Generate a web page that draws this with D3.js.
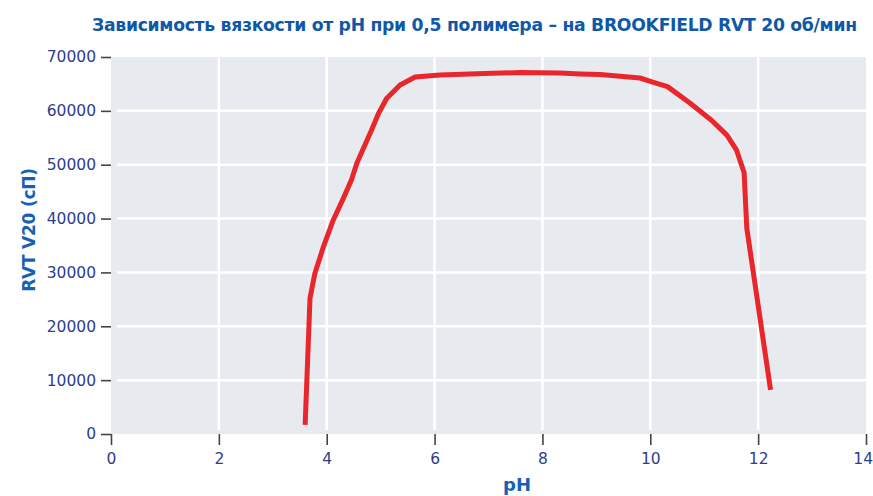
<!DOCTYPE html>
<html>
<head>
<meta charset="utf-8">
<script src="https://cdn.jsdelivr.net/npm/d3@7"></script>
<style>
  body { margin: 0; background: #fff; }
</style>
</head>
<body>
<div id="chart"></div>
<script>
// pH values and viscosity (cP)
const phValues = [3.60, 3.69, 3.78, 3.94, 4.12, 4.31, 4.46, 4.56, 4.83, 4.96, 5.11, 5.36, 5.64,
    6.10, 6.93, 7.58, 8.33, 8.70, 9.07, 9.81, 10.03, 10.32, 10.74, 11.14, 11.42, 11.60, 11.74, 11.79, 12.23];
const viscosity = [1700, 25200, 29800, 34800, 39700, 43800, 47200, 50300, 56400, 59500, 62300, 64800, 66300,
    66650, 66950, 67100, 67030, 66850, 66750, 66100, 65400, 64500, 61400, 58200, 55500, 52700, 48500, 38200, 8200];
const xTicks = [0, 2, 4, 6, 8, 10, 12, 14];
const yTicks = [0, 10000, 20000, 30000, 40000, 50000, 60000, 70000];

const titleText = "Зависимость вязкости от pH при 0,5 полимера – на BROOKFIELD RVT 20 об/мин";
const yLabel = "RVT V20 (сП)";
const xLabel = "pH";

const width = 873, height = 496;
const margin = { top: 57, right: 7, bottom: 62, left: 111 };

const svg = d3.select("#chart")
    .append("svg")
    .attr("width", width)
    .attr("height", height);

const x = d3.scaleLinear().domain([0, 14]).range([margin.left, width - margin.right]);
const y = d3.scaleLinear().domain([0, 70000]).range([height - margin.bottom, margin.top]);

// plot background
svg.append("rect")
    .attr("x", x(0))
    .attr("y", y(70000))
    .attr("width", x(14) - x(0))
    .attr("height", y(0) - y(70000))
    .attr("fill", "#e7eaee");

// grid lines (inset a little from the axes, like the original)
const grid = svg.append("g").attr("stroke", "#fff").attr("stroke-width", 2.5);
grid.selectAll("line.h")
    .data(yTicks.filter(d => d > 0 && d < 70000))
    .join("line")
    .attr("class", "h")
    .attr("x1", x(0) + 6)
    .attr("x2", x(14))
    .attr("y1", d => y(d))
    .attr("y2", d => y(d));
grid.selectAll("line.v")
    .data(xTicks.filter(d => d > 0 && d < 14))
    .join("line")
    .attr("class", "v")
    .attr("x1", d => x(d))
    .attr("x2", d => x(d))
    .attr("y1", y(70000))
    .attr("y2", y(0) - 4);

// axes
const tickColor = "#444";
const labelColor = "#2e3d8f";

const yAxis = svg.append("g")
    .attr("transform", `translate(${x(0)},0)`)
    .call(d3.axisLeft(y).tickValues(yTicks).tickSize(10).tickPadding(5).tickFormat(d3.format("d")));
const xAxis = svg.append("g")
    .attr("transform", `translate(0,${y(0)})`)
    .call(d3.axisBottom(x).tickValues(xTicks).tickSize(11).tickPadding(8));

[xAxis, yAxis].forEach(g => {
    g.select(".domain").remove();
    g.selectAll(".tick line").attr("stroke", tickColor).attr("stroke-width", 1.6);
    g.selectAll(".tick text")
        .attr("fill", labelColor)
        .attr("font-family", "DejaVu Sans, sans-serif")
        .attr("font-size", 15.5);
});

// last x label sits against the right edge of the picture
xAxis.selectAll(".tick text")
    .filter(d => d === 14)
    .attr("text-anchor", "end")
    .attr("dx", 6.5);

// the curve
const points = phValues.map((ph, i) => [ph, viscosity[i]]);
svg.append("path")
    .datum(points)
    .attr("fill", "none")
    .attr("stroke", "#e8262b")
    .attr("stroke-width", 5)
    .attr("stroke-linejoin", "round")
    .attr("d", d3.line().x(d => x(d[0])).y(d => y(d[1])).curve(d3.curveLinear));

// shrink a text's font until it fits the wanted length
function fitText(sel, wanted) {
    const size = +sel.attr("font-size");
    const len = sel.node().getComputedTextLength();
    if (len > wanted) sel.attr("font-size", size * wanted / len);
}

// title
const title = svg.append("text")
    .attr("x", 92)
    .attr("y", 31)
    .attr("fill", "#0f58a8")
    .attr("font-family", "DejaVu Sans, sans-serif")
    .attr("font-weight", "bold")
    .attr("font-size", 18)
    .attr("letter-spacing", -0.3)
    .text(titleText);
fitText(title, 766);

// axis titles
const yTitle = svg.append("text")
    .attr("transform", `translate(35,230) rotate(-90)`)
    .attr("text-anchor", "middle")
    .attr("fill", "#1662b2")
    .attr("font-family", "DejaVu Sans, sans-serif")
    .attr("font-weight", "bold")
    .attr("font-size", 18)
    .attr("letter-spacing", -0.3)
    .text(yLabel);
fitText(yTitle, 124);

svg.append("text")
    .attr("x", 517)
    .attr("y", 491)
    .attr("text-anchor", "middle")
    .attr("fill", "#1662b2")
    .attr("font-family", "DejaVu Sans, sans-serif")
    .attr("font-weight", "bold")
    .attr("font-size", 18)
    .text(xLabel);
</script>
</body>
</html>
